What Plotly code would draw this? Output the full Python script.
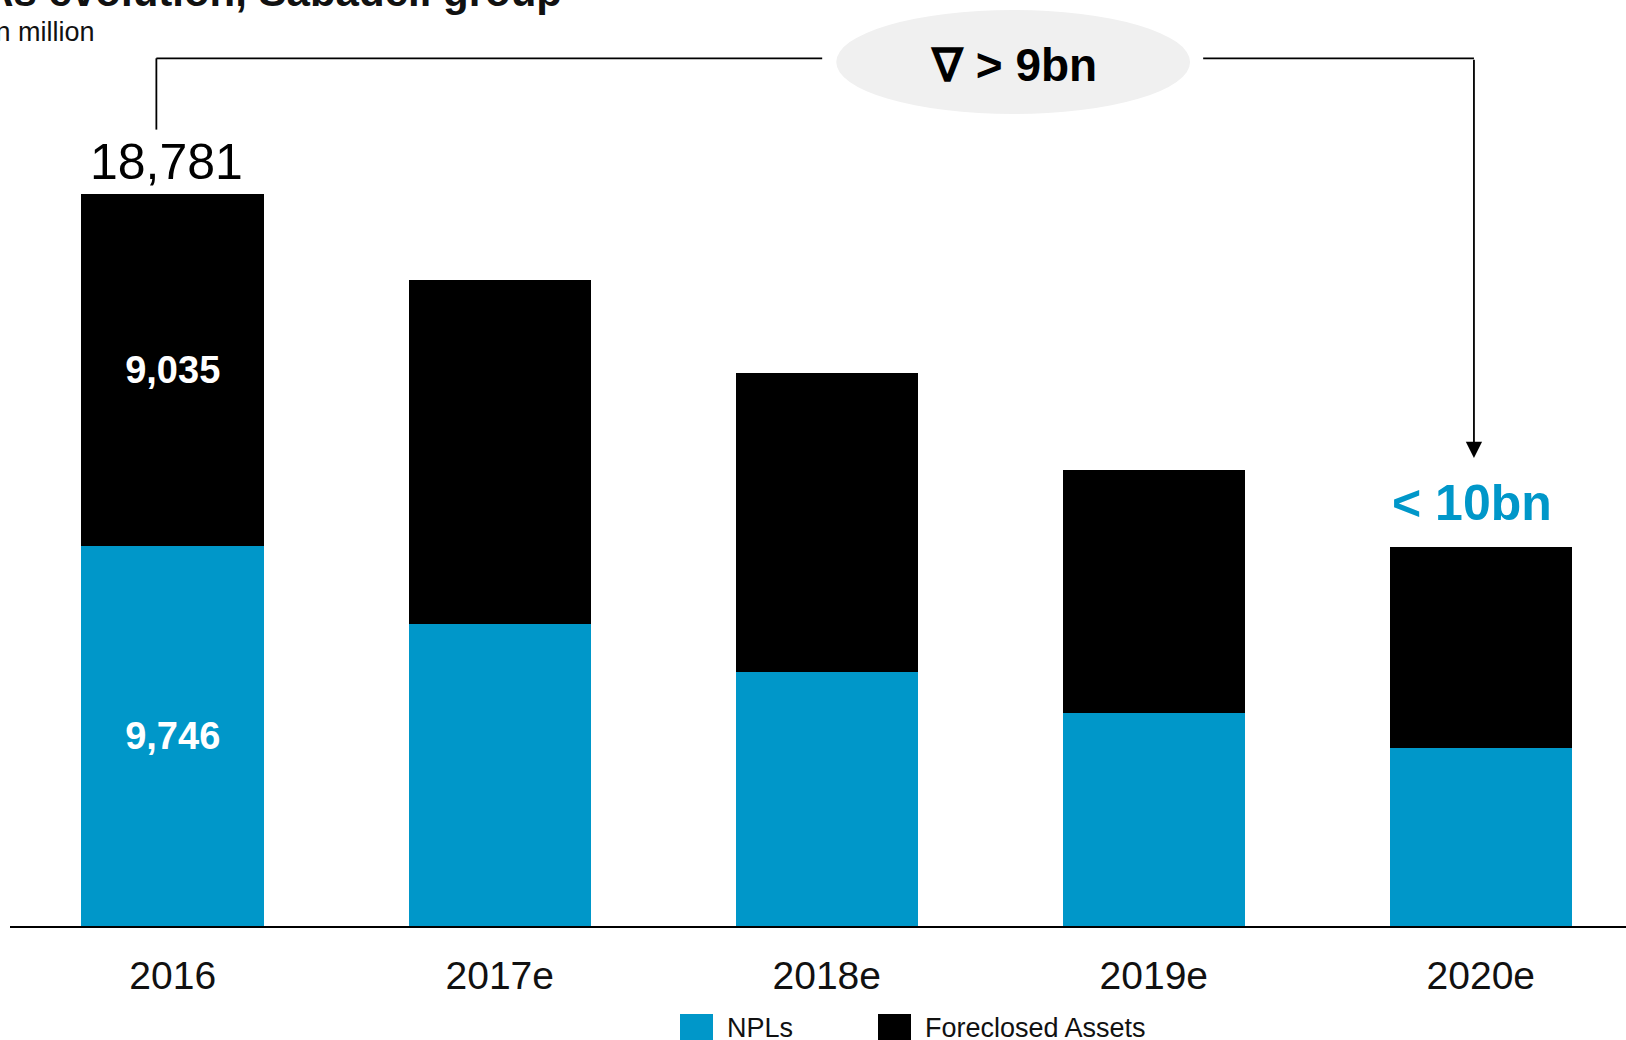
import plotly.graph_objects as go

# NPAs stock by year, € in million
years = ["2016", "2017e", "2018e", "2019e", "2020e"]
npls = [9746, 7750, 6515, 5465, 4575]
foreclosed = [9035, 8825, 7670, 6235, 5160]
totals = [a + b for a, b in zip(npls, foreclosed)]
series_names = ["NPLs", "Foreclosed Assets"]
value_labels_npl = ["9,746", "", "", "", ""]
value_labels_fa = ["9,035", "", "", "", ""]

BLUE = "#0097C9"
BLACK = "#000000"
FONT = "Liberation Sans, Arial, sans-serif"

# plot area in pixels (used to place paper-referenced decorations)
L, PLOT_W, PLOT_H = 10, 1616, 926


def px_x(px):
    return (px - L) / PLOT_W


def px_y(py):
    return (PLOT_H - py) / PLOT_H


fig = go.Figure()
fig.add_trace(go.Bar(
    x=list(range(len(years))), y=npls, name=series_names[0],
    marker=dict(color=BLUE, line=dict(width=0)),
    text=value_labels_npl, textposition="inside", insidetextanchor="middle",
    textfont=dict(family=FONT, size=38, color="white", weight="bold"),
    hoverinfo="skip",
))
fig.add_trace(go.Bar(
    x=list(range(len(years))), y=foreclosed, name=series_names[1],
    marker=dict(color=BLACK, line=dict(width=0)),
    text=value_labels_fa, textposition="inside", insidetextanchor="middle",
    textfont=dict(family=FONT, size=38, color="white", weight="bold"),
    hoverinfo="skip",
))

y_top = 23756
fig.update_layout(
    width=1626, height=1040,
    margin=dict(l=L, r=0, t=0, b=1040 - PLOT_H),
    barmode="stack", bargap=0.442,
    plot_bgcolor="white", paper_bgcolor="white",
    showlegend=False,
    xaxis=dict(
        range=[-0.4976, 4.444], tickmode="array",
        tickvals=list(range(len(years))), ticktext=years,
        tickfont=dict(family=FONT, size=39, color="#111111"),
        showline=True, linecolor="black", linewidth=2,
        showgrid=False, zeroline=False, ticks="", ticklabelstandoff=14,
    ),
    yaxis=dict(range=[0, y_top], visible=False, showgrid=False, zeroline=False),
)

# total label above the first bar
fig.add_annotation(
    x=0, y=totals[0], xref="x", yref="y", text=f"{totals[0]:,}",
    showarrow=False, yanchor="bottom", xshift=-6, yshift=2,
    font=dict(family=FONT, size=50, color="black"),
)

# bracket from the 2016 bar to the 2020e bar
lw = 1.8
bracket_y = 22260
fig.add_shape(type="line", xref="x", yref="y", x0=-0.05, x1=-0.05,
              y0=totals[0] + 1650, y1=bracket_y, line=dict(color="black", width=lw))
fig.add_shape(type="line", xref="x", yref="y", x0=-0.05, x1=1.986,
              y0=bracket_y, y1=bracket_y, line=dict(color="black", width=lw))
fig.add_shape(type="circle", xref="x", yref="y", x0=2.029, x1=3.111,
              y0=20831, y1=23499, fillcolor="#F0F0F0", line=dict(width=0), layer="below")
fig.add_annotation(
    x=2.570, y=22090, xref="x", yref="y", text="<b>∇ > 9bn</b>",
    showarrow=False, font=dict(family=FONT, size=46, color="black"),
)
fig.add_shape(type="line", xref="x", yref="y", x0=3.151, x1=3.979,
              y0=bracket_y, y1=bracket_y, line=dict(color="black", width=lw))
fig.add_annotation(
    x=3.979, y=12006, ax=3.979, ay=bracket_y, xref="x", yref="y",
    axref="x", ayref="y", text="", showarrow=True,
    arrowhead=2, arrowsize=1.8, arrowwidth=lw, arrowcolor="black",
)
fig.add_annotation(
    x=3.972, y=totals[4], xref="x", yref="y", text="<b>< 10bn</b>",
    showarrow=False, yanchor="bottom", yshift=14,
    font=dict(family=FONT, size=50, color=BLUE),
)

# title and unit
fig.add_annotation(
    x=px_x(564), y=px_y(-8), xref="paper", yref="paper",
    text="<b>NPAs evolution, Sabadell group</b>",
    showarrow=False, xanchor="right", yanchor="middle",
    font=dict(family=FONT, size=42, color="#111111"),
)
fig.add_annotation(
    x=px_x(97), y=px_y(32), xref="paper", yref="paper", text="€ in million",
    showarrow=False, xanchor="right", yanchor="middle",
    font=dict(family=FONT, size=27, color="#111111"),
)

# legend keys
legend_colors = [BLUE, BLACK]
legend_x = [680, 878]
for name, color, px in zip(series_names, legend_colors, legend_x):
    fig.add_shape(type="rect", xref="paper", yref="paper",
                  x0=px_x(px), x1=px_x(px + 33),
                  y0=px_y(1048), y1=px_y(1014),
                  fillcolor=color, line=dict(width=0))
    fig.add_annotation(
        x=px_x(px + 45), y=px_y(1028), xref="paper", yref="paper",
        text=name, showarrow=False, xanchor="left", yanchor="middle",
        font=dict(family=FONT, size=27, color="#111111"),
    )

fig.write_html("out.html")
